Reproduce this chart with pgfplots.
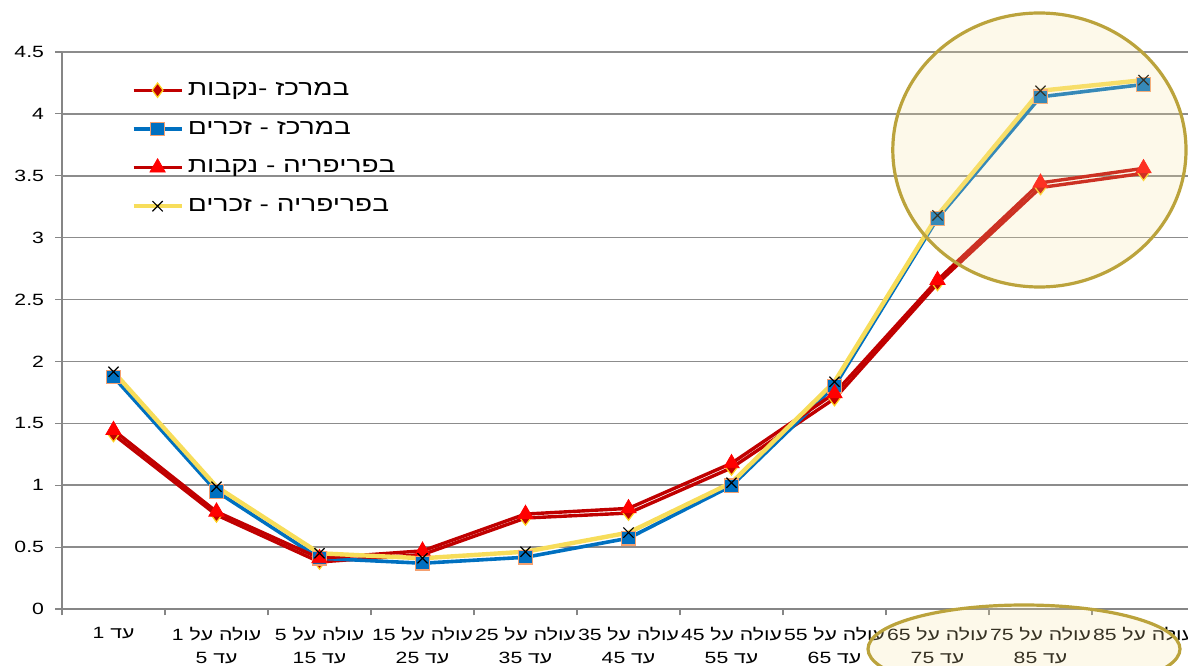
\documentclass[border=0pt]{standalone}
\usepackage{fontspec}
\setmainfont{Liberation Sans}[FakeStretch=1.3]
\newfontfamily\heb[Script=Hebrew,FakeStretch=1.3]{Liberation Sans}
\usepackage{pgfplots}
\pgfplotsset{compat=1.18}
\TeXXeTstate=1

\definecolor{darkred}{HTML}{C00000}
\definecolor{brightred}{HTML}{FF0000}
\definecolor{markyellow}{HTML}{FFD21E}
\definecolor{blueline}{HTML}{0070C0}
\definecolor{sqedge}{HTML}{F4A070}
\definecolor{yellowline}{HTML}{F7DD5A}
\definecolor{gridgray}{HTML}{8C8C8C}
\definecolor{axisgray}{HTML}{868686}
\definecolor{ringgold}{HTML}{BBA33C}
\definecolor{ringfill}{HTML}{F7E3A0}

\begin{document}
\begin{tikzpicture}
\useasboundingbox (0,0) rectangle (594pt,332.5pt);
\clip (0,0) rectangle (594pt,332.5pt);
\begin{axis}[
  at={(31pt,28pt)}, anchor=south west,
  scale only axis,
  width=566.5pt, height=278.5pt,
  xmin=-0.5, xmax=10.5,
  ymin=0, ymax=4.5,
  axis x line*=bottom, axis y line*=left,
  axis line style={draw=axisgray, line width=0.6pt},
  every inner x axis line/.append style={-},
  every inner y axis line/.append style={-},
  xtick={0,...,10},
  xticklabels={
    {\heb\beginR עד \beginL 1\endL\endR},
    {\heb\beginR עולה על \beginL 1\endL\endR\\\beginR עד \beginL 5\endL\endR},
    {\heb\beginR עולה על \beginL 5\endL\endR\\\beginR עד \beginL 15\endL\endR},
    {\heb\beginR עולה על \beginL 15\endL\endR\\\beginR עד \beginL 25\endL\endR},
    {\heb\beginR עולה על \beginL 25\endL\endR\\\beginR עד \beginL 35\endL\endR},
    {\heb\beginR עולה על \beginL 35\endL\endR\\\beginR עד \beginL 45\endL\endR},
    {\heb\beginR עולה על \beginL 45\endL\endR\\\beginR עד \beginL 55\endL\endR},
    {\heb\beginR עולה על \beginL 55\endL\endR\\\beginR עד \beginL 65\endL\endR},
    {\heb\beginR עולה על \beginL 65\endL\endR\\\beginR עד \beginL 75\endL\endR},
    {\heb\beginR עולה על \beginL 75\endL\endR\\\beginR עד \beginL 85\endL\endR},
    {\heb\beginR עולה על \beginL 85\endL\endR}},
  xtick style={draw=none},
  minor xtick={-0.5,0.5,...,10.5},
  minor x tick style={draw=axisgray, line width=0.6pt},
  minor tick length=3.2pt,
  ytick={0,0.5,...,4.5},
  yticklabel style={/pgf/number format/assume math mode=true,
    font=\fontsize{8.15}{10}\selectfont, xshift=-2pt},
  y tick style={draw=axisgray, line width=0.6pt},
  major tick length=3.5pt,
  tick align=outside,
  xticklabel style={font=\fontsize{8.15}{11.5}\selectfont\heb, align=center,
    yshift=-2pt},
  ymajorgrids,
  major grid style={draw=gridgray, line width=0.8pt},
  legend cell align=left,
  legend style={at={(0.0556,0.961)}, anchor=north west, draw=none, fill=none,
    font=\fontsize{10.8}{12}\selectfont\heb, row sep=7.3pt,
    /tikz/every even column/.append style={column sep=0.5pt}},
  legend image code/.code={\draw[mark repeat=2,mark phase=2,#1]
    plot coordinates {(0pt,0pt) (12pt,0pt) (24pt,0pt)};},
]
% centre, women
\addplot[darkred, line width=1.7pt,
  mark=diamond*, mark size=3.6pt,
  mark options={fill=darkred, draw=markyellow, line width=0.6pt}]
  coordinates {(0,1.41) (1,0.76) (2,0.38) (3,0.44) (4,0.735) (5,0.775)
    (6,1.14) (7,1.70) (8,2.63) (9,3.405) (10,3.52)};
\addlegendentry{\beginR במרכז -\kern0pt נקבות\endR}
% centre, men
\addplot[blueline, line width=1.8pt,
  mark=square*, mark size=3.4pt,
  mark options={fill=blueline, draw=sqedge, line width=0.6pt}]
  coordinates {(0,1.875) (1,0.95) (2,0.41) (3,0.37) (4,0.418) (5,0.572)
    (6,0.995) (7,1.80) (8,3.155) (9,4.138) (10,4.238)};
\addlegendentry{\beginR במרכז - זכרים\endR}
% periphery, women
\addplot[darkred, line width=1.7pt,
  mark=triangle*, mark size=4.4pt,
  mark options={fill=brightred, draw=brightred, line width=0.4pt}]
  coordinates {(0,1.445) (1,0.786) (2,0.41) (3,0.47) (4,0.767) (5,0.813)
    (6,1.177) (7,1.742) (8,2.657) (9,3.443) (10,3.56)};
\addlegendentry{\beginR בפריפריה - נקבות\endR}
% periphery, men
\addplot[yellowline, line width=2.2pt,
  mark=x, mark size=3.6pt,
  mark options={draw=black, line width=0.6pt}]
  coordinates {(0,1.917) (1,0.988) (2,0.45) (3,0.41) (4,0.463) (5,0.617)
    (6,1.02) (7,1.836) (8,3.18) (9,4.187) (10,4.273)};
\addlegendentry{\beginR בפריפריה - זכרים\endR}
\end{axis}
% highlight of the oldest age groups
\fill[ringfill, fill opacity=0.22] (519.7pt,257.5pt) ellipse [x radius=73.3pt, y radius=68.5pt];
\draw[ringgold, line width=1.6pt] (519.7pt,257.5pt) ellipse [x radius=73.3pt, y radius=68.5pt];
\fill[ringfill, fill opacity=0.22] (512pt,8pt) ellipse [x radius=78pt, y radius=22pt];
\draw[ringgold, line width=1.6pt] (512pt,8pt) ellipse [x radius=78pt, y radius=22pt];
\end{tikzpicture}
\end{document}
